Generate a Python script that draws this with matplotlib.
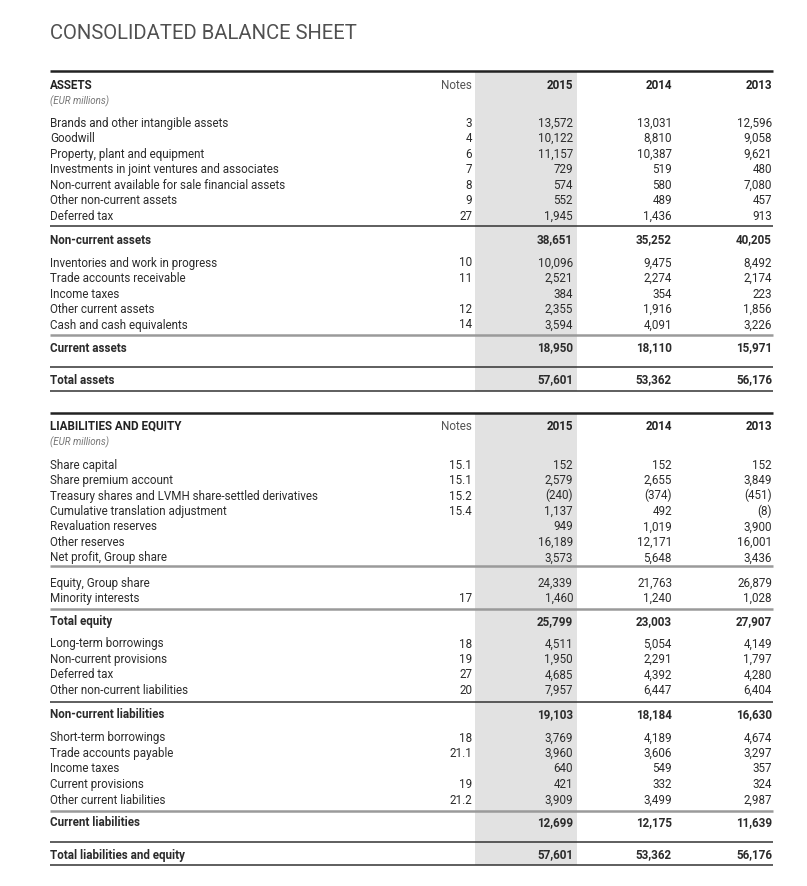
import matplotlib
matplotlib.use("Agg")
import matplotlib.pyplot as plt
from matplotlib.patches import Rectangle

plt.rcParams['font.family'] = ['Roboto', 'DejaVu Sans']

years = ["2015", "2014", "2013"]

# assets
nca_labels = ["Brands and other intangible assets", "Goodwill", "Property, plant and equipment",
              "Investments in joint ventures and associates", "Non-current available for sale financial assets",
              "Other non-current assets", "Deferred tax"]
nca_notes = ["3", "4", "6", "7", "8", "9", "27"]
nca_2015 = ["13,572", "10,122", "11,157", "729", "574", "552", "1,945"]
nca_2014 = ["13,031", "8,810", "10,387", "519", "580", "489", "1,436"]
nca_2013 = ["12,596", "9,058", "9,621", "480", "7,080", "457", "913"]
nca_total = ["38,651", "35,252", "40,205"]

ca_labels = ["Inventories and work in progress", "Trade accounts receivable", "Income taxes",
             "Other current assets", "Cash and cash equivalents"]
ca_notes = ["10", "11", "", "12", "14"]
ca_2015 = ["10,096", "2,521", "384", "2,355", "3,594"]
ca_2014 = ["9,475", "2,274", "354", "1,916", "4,091"]
ca_2013 = ["8,492", "2,174", "223", "1,856", "3,226"]
ca_total = ["18,950", "18,110", "15,971"]
total_assets = ["57,601", "53,362", "56,176"]

# liabilities and equity
eq_labels = ["Share capital", "Share premium account", "Treasury shares and LVMH share-settled derivatives",
             "Cumulative translation adjustment", "Revaluation reserves", "Other reserves",
             "Net profit, Group share"]
eq_notes = ["15.1", "15.1", "15.2", "15.4", "", "", ""]
eq_2015 = ["152", "2,579", "(240)", "1,137", "949", "16,189", "3,573"]
eq_2014 = ["152", "2,655", "(374)", "492", "1,019", "12,171", "5,648"]
eq_2013 = ["152", "3,849", "(451)", "(8)", "3,900", "16,001", "3,436"]

grp_labels = ["Equity, Group share", "Minority interests"]
grp_notes = ["", "17"]
grp_2015 = ["24,339", "1,460"]
grp_2014 = ["21,763", "1,240"]
grp_2013 = ["26,879", "1,028"]
total_equity = ["25,799", "23,003", "27,907"]

ncl_labels = ["Long-term borrowings", "Non-current provisions", "Deferred tax", "Other non-current liabilities"]
ncl_notes = ["18", "19", "27", "20"]
ncl_2015 = ["4,511", "1,950", "4,685", "7,957"]
ncl_2014 = ["5,054", "2,291", "4,392", "6,447"]
ncl_2013 = ["4,149", "1,797", "4,280", "6,404"]
ncl_total = ["19,103", "18,184", "16,630"]

cl_labels = ["Short-term borrowings", "Trade accounts payable", "Income taxes", "Current provisions",
             "Other current liabilities"]
cl_notes = ["18", "21.1", "", "19", "21.2"]
cl_2015 = ["3,769", "3,960", "640", "421", "3,909"]
cl_2014 = ["4,189", "3,606", "549", "332", "3,499"]
cl_2013 = ["4,674", "3,297", "357", "324", "2,987"]
cl_total = ["12,699", "12,175", "11,639"]
total_le = ["57,601", "53,362", "56,176"]

# layout (pixel coordinates)
X0, X1 = 50, 773
NOTE_X = 472
COL_X = [573, 672, 772]
BAND = (475, 577)
STEP = 15.5
TXT = "#2b2b2b"
FS = 8.4
BL = 4.5  # baseline offset from row centre

fig = plt.figure(figsize=(8.07, 8.86), dpi=100)
ax = fig.add_axes([0, 0, 1, 1])
ax.set_xlim(0, 807)
ax.set_ylim(886, 0)
ax.axis("off")


def row(y, label, note, vals, bold=False):
    y = y + BL
    w = "bold" if bold else "normal"
    ax.text(X0, y, label, fontsize=FS, color=TXT, fontweight=w, va="baseline", ha="left")
    if note:
        ax.text(NOTE_X, y, note, fontsize=FS, color=TXT, va="baseline", ha="right")
    for x, v in zip(COL_X, vals):
        ax.text(x, y, v, fontsize=FS, color=TXT, fontweight=w, va="baseline", ha="right")


def block(y0, labels, notes, c1, c2, c3):
    for i, lab in enumerate(labels):
        row(y0 + i * STEP, lab, notes[i], [c1[i], c2[i], c3[i]])


def line(y, kind):
    if kind == "thick":
        ax.hlines(y, X0, X1, color="#222222", lw=1.8)
    elif kind == "dark":
        ax.hlines(y, X0, X1, color="#333333", lw=1.1)
    else:
        ax.hlines(y, X0, X1, color="#9a9a9a", lw=1.8)


def header(y, title):
    y = y + BL
    ax.text(X0, y, title, fontsize=FS, color="#222222", fontweight="bold", va="baseline")
    ax.text(X0, y + 16, "(EUR millions)", fontsize=7.0, color="#777777", style="italic", va="baseline")
    ax.text(NOTE_X, y, "Notes", fontsize=FS, color="#555555", va="baseline", ha="right")
    for x, yr in zip(COL_X, years):
        ax.text(x, y, yr, fontsize=FS, color="#222222", fontweight="bold", va="baseline", ha="right")


ax.text(X0, 33, "CONSOLIDATED BALANCE SHEET", fontsize=14.6, color="#505050",
        va="center", ha="left")

# assets section
ax.add_patch(Rectangle((BAND[0], 72), BAND[1] - BAND[0], 391 - 72, color="#e2e2e2", lw=0, zorder=0))
line(71, "thick")
header(84, "ASSETS")
block(122, nca_labels, nca_notes, nca_2015, nca_2014, nca_2013)
line(226, "dark")
row(239, "Non-current assets", "", nca_total, bold=True)
block(262, ca_labels, ca_notes, ca_2015, ca_2014, ca_2013)
line(335, "gray")
row(347, "Current assets", "", ca_total, bold=True)
line(367, "dark")
row(379, "Total assets", "", total_assets, bold=True)
line(391, "dark")

# liabilities section
ax.add_patch(Rectangle((BAND[0], 414), BAND[1] - BAND[0], 865 - 414, color="#e2e2e2", lw=0, zorder=0))
line(413, "thick")
header(425, "LIABILITIES AND EQUITY")
block(464, eq_labels, eq_notes, eq_2015, eq_2014, eq_2013)
line(566, "gray")
block(582, grp_labels, grp_notes, grp_2015, grp_2014, grp_2013)
line(609, "gray")
row(621, "Total equity", "", total_equity, bold=True)
block(643, ncl_labels, ncl_notes, ncl_2015, ncl_2014, ncl_2013)
line(702, "dark")
row(714, "Non-current liabilities", "", ncl_total, bold=True)
block(737, cl_labels, cl_notes, cl_2015, cl_2014, cl_2013)
line(811, "gray")
row(822, "Current liabilities", "", cl_total, bold=True)
line(842, "dark")
row(854, "Total liabilities and equity", "", total_le, bold=True)
line(865, "dark")

fig.savefig("out.png", dpi=100)
